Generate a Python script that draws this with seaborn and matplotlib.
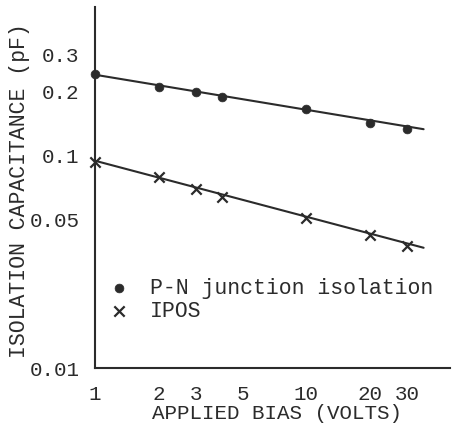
import numpy as np
import pandas as pd
import matplotlib
matplotlib.use("Agg")
import matplotlib.pyplot as plt
import seaborn as sns

# ---- data ----
bias = [1, 2, 3, 4, 10, 20, 30]
pn_cap = [0.241, 0.209, 0.200, 0.188, 0.165, 0.143, 0.134]
ipos_cap = [0.0937, 0.0796, 0.0699, 0.0641, 0.0510, 0.0424, 0.0376]
fit_x = [1, 36]
pn_fit = [0.240, 0.133]
ipos_fit = [0.0945, 0.0368]
series_names = ["P-N junction isolation", "IPOS"]
x_ticks = [1, 2, 3, 5, 10, 20, 30]
x_ticklabels = ["1", "2", "3", "5", "10", "20", "30"]
y_ticks = [0.01, 0.05, 0.1, 0.2, 0.3]
y_ticklabels = ["0.01", "0.05", "0.1", "0.2", "0.3"]

sns.set_theme(style="white")
plt.rcParams["font.family"] = ["Liberation Mono", "DejaVu Sans Mono"]

ink = "#2b2b2b"
pn_df = pd.DataFrame({"bias": bias, "cap": pn_cap})
ipos_df = pd.DataFrame({"bias": bias, "cap": ipos_cap})
fits = pd.DataFrame({
    "bias": fit_x * 2,
    "cap": pn_fit + ipos_fit,
    "series": [series_names[0]] * 2 + [series_names[1]] * 2,
})

fig = plt.figure(figsize=(4.53, 4.26), dpi=100)
ax = fig.add_axes([95 / 453, 1 - 368 / 426, (450 - 95) / 453, (368 - 7) / 426])
ax.set_xscale("log")
ax.set_yscale("log")

sns.lineplot(data=fits, x="bias", y="cap", units="series", estimator=None,
             color=ink, linewidth=1.5, ax=ax, legend=False)
sns.scatterplot(data=pn_df, x="bias", y="cap", marker="o", color=ink,
                edgecolor=ink, s=40, linewidth=0.5, ax=ax, clip_on=False,
                zorder=3, label=series_names[0])
sns.scatterplot(data=ipos_df, x="bias", y="cap", marker="x", color=ink,
                s=55, linewidth=1.6, ax=ax, clip_on=False,
                zorder=3, label=series_names[1])

ax.set_xlim(1, 48)
ax.set_ylim(0.01, 0.5)
ax.minorticks_off()
ax.set_xticks(x_ticks)
ax.set_xticklabels(x_ticklabels)
ax.set_yticks(y_ticks)
ax.set_yticklabels(y_ticklabels)
ax.tick_params(axis="both", which="major", direction="in", length=4, width=1.5,
               colors=ink, labelsize=15, pad=11)
ax.tick_params(axis="x", pad=12)
for side in ["top", "right"]:
    ax.spines[side].set_visible(False)
for side in ["left", "bottom"]:
    ax.spines[side].set_color(ink)
    ax.spines[side].set_linewidth(1.5)

ax.set_xlabel("APPLIED BIAS (VOLTS)", fontsize=15, color=ink)
ax.set_ylabel("ISOLATION CAPACITANCE (pF)", fontsize=15.5, color=ink)
ax.xaxis.set_label_coords(0.513, -0.100)
ax.yaxis.set_label_coords(-0.184, 0.49)

leg = ax.legend(loc="upper left", bbox_to_anchor=(0.006, 0.249), frameon=False,
                prop={"size": 15.5}, handletextpad=0.45, labelspacing=0.08,
                borderpad=0, borderaxespad=0, labelcolor=ink)

fig.savefig("out.png", dpi=100, facecolor="white")
